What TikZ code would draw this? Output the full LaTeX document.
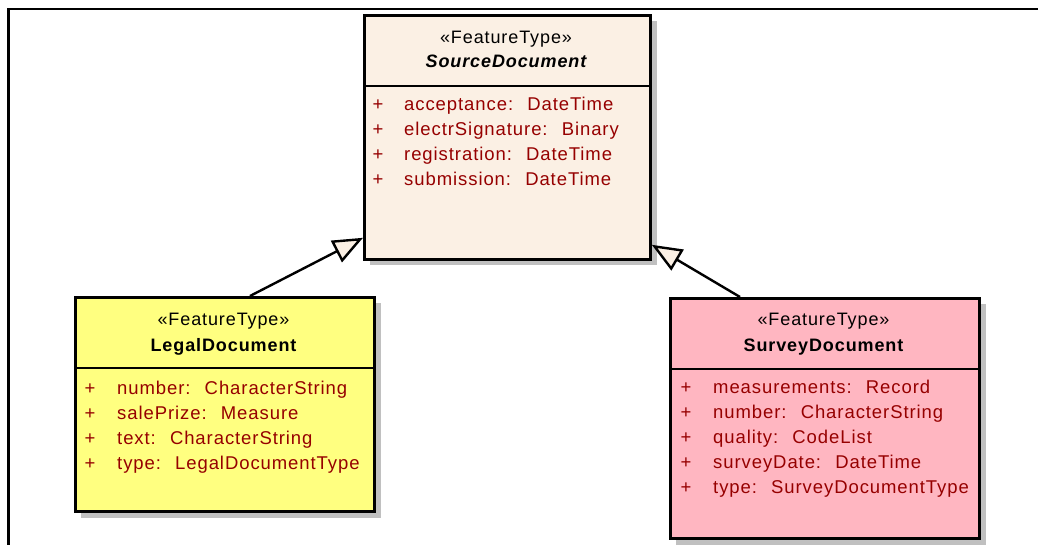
\documentclass[tikz,border=0pt]{standalone}
\usepackage{fontspec}
\setmainfont{Liberation Sans}
\newfontfamily\umlfont[LetterSpace=5]{Liberation Sans}
\usetikzlibrary{arrows.meta}
\definecolor{srcfill}{RGB}{251,240,228}
\definecolor{legalfill}{RGB}{255,255,128}
\definecolor{surveyfill}{RGB}{255,182,193}
\definecolor{attrred}{RGB}{150,0,0}
\definecolor{shadowgray}{RGB}{192,192,192}

\begin{document}
\begin{tikzpicture}[x=1pt,y=-1pt,
  classbox/.style={draw=black, line width=2.8pt, anchor=north west, inner sep=0pt},
  divider/.style={line width=2.4pt},
  shadowbox/.style={fill=shadowgray},
  stereo/.style={anchor=base, inner sep=0pt, font=\umlfont\fontsize{18}{22}\selectfont},
  cname/.style={anchor=base, inner sep=0pt, font=\umlfont\bfseries\fontsize{18}{22}\selectfont},
  aname/.style={anchor=base, inner sep=0pt, font=\umlfont\bfseries\itshape\fontsize{18}{22}\selectfont},
  plus/.style={anchor=base, inner sep=0pt, text=attrred, font=\umlfont\fontsize{18.5}{22}\selectfont},
  attr/.style={anchor=base west, inner sep=0pt, text=attrred, font=\umlfont\fontsize{18.5}{22}\selectfont},
  generalization/.style={line width=2.4pt, -{Triangle[length=30pt,width=24pt,fill=srcfill,line join=miter]}},
]
\useasboundingbox (0,0) rectangle (1038,545);

% diagram frame
\draw[line width=2.2pt] (8.5,545) -- (8.5,9.3) -- (1038,9.3);

% ---------- SourceDocument (abstract) ----------
\fill[shadowbox] (370,21) rectangle (657,265);
\node[classbox, fill=srcfill, minimum width=286pt, minimum height=244pt] (src) at (363,14) {};
\draw[divider] (363,86) -- (649,86);
\node[stereo] (src-st) at (506,44) {«FeatureType»};
\node[aname] (src-name) at (506,68) {SourceDocument};
\node[plus] (src-p1) at (378,111) {+};
\node[plus] (src-p2) at (378,136) {+};
\node[plus] (src-p3) at (378,161) {+};
\node[plus] (src-p4) at (378,186) {+};
\node[attr] (src-a1) at (404,111) {acceptance:~ DateTime};
\node[attr] (src-a2) at (404,136) {electrSignature:~ Binary};
\node[attr] (src-a3) at (404,161) {registration:~ DateTime};
\node[attr] (src-a4) at (404,186) {submission:~ DateTime};

% ---------- LegalDocument ----------
\fill[shadowbox] (81,303) rectangle (381,518);
\node[classbox, fill=legalfill, minimum width=299pt, minimum height=214pt] (legal) at (74,296) {};
\draw[divider] (74,368) -- (373,368);
\node[stereo] (legal-st) at (223.5,325) {«FeatureType»};
\node[cname] (legal-name) at (223.5,351) {LegalDocument};
\node[plus] (legal-p1) at (90,394) {+};
\node[plus] (legal-p2) at (90,419) {+};
\node[plus] (legal-p3) at (90,444) {+};
\node[plus] (legal-p4) at (90,469) {+};
\node[attr] (legal-a1) at (117,394) {number:~ CharacterString};
\node[attr] (legal-a2) at (117,419) {salePrize:~ Measure};
\node[attr] (legal-a3) at (117,444) {text:~ CharacterString};
\node[attr] (legal-a4) at (117,469) {type:~ LegalDocumentType};

% ---------- SurveyDocument ----------
\fill[shadowbox] (676,304) rectangle (986,545);
\node[classbox, fill=surveyfill, minimum width=309pt, minimum height=240pt] (survey) at (669,297) {};
\draw[divider] (669,369) -- (978,369);
\node[stereo] (survey-st) at (823.5,325) {«FeatureType»};
\node[cname] (survey-name) at (823.5,351) {SurveyDocument};
\node[plus] (survey-p1) at (686,393) {+};
\node[plus] (survey-p2) at (686,418) {+};
\node[plus] (survey-p3) at (686,443) {+};
\node[plus] (survey-p4) at (686,468) {+};
\node[plus] (survey-p5) at (686,493) {+};
\node[attr] (survey-a1) at (713,393) {measurements:~ Record};
\node[attr] (survey-a2) at (713,418) {number:~ CharacterString};
\node[attr] (survey-a3) at (713,443) {quality:~ CodeList};
\node[attr] (survey-a4) at (713,468) {surveyDate:~ DateTime};
\node[attr] (survey-a5) at (713,493) {type:~ SurveyDocumentType};

% ---------- generalizations ----------
\draw[generalization] ([xshift=176pt]legal.north west) -- ([yshift=23pt]src.south west);
\draw[generalization] ([xshift=71pt]survey.north west) -- ([yshift=16pt]src.south east);
\end{tikzpicture}
\end{document}
